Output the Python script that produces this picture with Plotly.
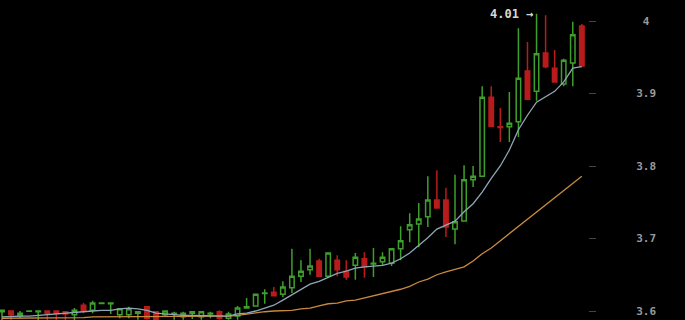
import plotly.graph_objects as go

idx = list(range(65))

opens = [3.599, 3.600, 3.593, 3.5995, 3.599, 3.600, 3.600, 3.599, 3.595, 3.608,
         3.601, 3.6105, 3.610, 3.595, 3.595, 3.597, 3.606, 3.599, 3.595, 3.596,
         3.592, 3.597, 3.592, 3.596, 3.599, 3.590, 3.593, 3.604, 3.607, 3.624,
         3.626, 3.623, 3.632, 3.648, 3.657, 3.669, 3.648, 3.670, 3.655, 3.663,
         3.672, 3.665, 3.668, 3.666, 3.686, 3.712, 3.720, 3.730, 3.753, 3.753,
         3.713, 3.724, 3.781, 3.786, 3.895, 3.854, 3.854, 3.861, 3.931, 3.903,
         3.956, 3.935, 3.913, 3.942, 3.993]
highs = [3.601, 3.600, 3.600, 3.600, 3.600, 3.600, 3.600, 3.599, 3.604, 3.611,
         3.614, 3.611, 3.612, 3.604, 3.606, 3.600, 3.607, 3.600, 3.601, 3.599,
         3.599, 3.600, 3.600, 3.599, 3.601, 3.599, 3.607, 3.618, 3.624, 3.630,
         3.633, 3.641, 3.686, 3.670, 3.686, 3.672, 3.681, 3.677, 3.670, 3.680,
         3.681, 3.687, 3.681, 3.686, 3.717, 3.735, 3.749, 3.786, 3.794, 3.770,
         3.788, 3.801, 3.800, 3.910, 3.910, 3.880, 3.902, 3.990, 3.971, 4.010,
         4.008, 3.960, 3.948, 3.999, 3.996]
lows = [3.585, 3.586, 3.590, 3.599, 3.586, 3.586, 3.586, 3.586, 3.586, 3.597,
        3.597, 3.610, 3.596, 3.590, 3.590, 3.588, 3.588, 3.585, 3.592, 3.588,
        3.588, 3.589, 3.588, 3.590, 3.588, 3.588, 3.588, 3.604, 3.606, 3.610,
        3.620, 3.619, 3.625, 3.640, 3.650, 3.647, 3.646, 3.648, 3.643, 3.643,
        3.646, 3.647, 3.663, 3.662, 3.670, 3.695, 3.688, 3.716, 3.742, 3.702,
        3.692, 3.723, 3.771, 3.786, 3.855, 3.833, 3.833, 3.840, 3.892, 3.890,
        3.935, 3.915, 3.910, 3.910, 3.938]
closes = [3.601, 3.595, 3.597, 3.600, 3.600, 3.597, 3.597, 3.596, 3.601, 3.600,
          3.611, 3.611, 3.611, 3.603, 3.603, 3.599, 3.590, 3.588, 3.600, 3.597,
          3.597, 3.599, 3.599, 3.597, 3.590, 3.596, 3.604, 3.606, 3.623, 3.625,
          3.621, 3.633, 3.648, 3.655, 3.662, 3.648, 3.680, 3.657, 3.647, 3.674,
          3.661, 3.666, 3.674, 3.686, 3.697, 3.719, 3.727, 3.753, 3.742, 3.716,
          3.723, 3.781, 3.786, 3.895, 3.855, 3.853, 3.859, 3.921, 3.892, 3.955,
          3.937, 3.916, 3.946, 3.981, 3.938]

ma_fast = [3.592, 3.593, 3.593, 3.593, 3.594, 3.596, 3.597, 3.597, 3.599, 3.599,
           3.600, 3.601, 3.601, 3.603, 3.604, 3.603, 3.601, 3.597, 3.596, 3.594,
           3.594, 3.594, 3.594, 3.594, 3.593, 3.593, 3.596, 3.597, 3.600, 3.604,
           3.608, 3.615, 3.622, 3.630, 3.637, 3.641, 3.646, 3.652, 3.655, 3.659,
           3.661, 3.662, 3.663, 3.666, 3.672, 3.680, 3.690, 3.701, 3.713, 3.719,
           3.724, 3.737, 3.748, 3.764, 3.783, 3.800, 3.822, 3.850, 3.870, 3.888,
           3.895, 3.903, 3.916, 3.935, 3.937]
ma_slow = [3.590, 3.590, 3.590, 3.591, 3.591, 3.591, 3.591, 3.591, 3.591, 3.591,
           3.592, 3.592, 3.592, 3.592, 3.592, 3.592, 3.592, 3.592, 3.592, 3.592,
           3.592, 3.592, 3.592, 3.593, 3.593, 3.593, 3.594, 3.596, 3.597, 3.599,
           3.600, 3.600, 3.601, 3.603, 3.604, 3.607, 3.610, 3.611, 3.614, 3.615,
           3.618, 3.621, 3.623, 3.626, 3.630, 3.634, 3.640, 3.644, 3.650, 3.654,
           3.657, 3.661, 3.669, 3.679, 3.687, 3.697, 3.706, 3.716, 3.726, 3.737,
           3.746, 3.757, 3.767, 3.777, 3.786]

tick_vals = [3.6, 3.7, 3.8, 3.9, 4.0]
tick_text = ["3.6", "3.7", "3.8", "3.9", "\u00a04"]
max_label = "4.01 \u2192"
max_index = 59
max_value = 4.01

GREEN = "#3e9f2c"
RED = "#b71b1b"

fig = go.Figure()
fig.add_trace(go.Candlestick(
    x=idx, open=opens, high=highs, low=lows, close=closes,
    increasing=dict(line=dict(color=GREEN, width=1.5), fillcolor="rgba(0,0,0,1)"),
    decreasing=dict(line=dict(color=RED, width=1.5), fillcolor=RED),
    whiskerwidth=0, showlegend=False, hoverinfo="skip",
))
fig.add_trace(go.Scatter(x=idx, y=ma_slow, mode="lines",
                         line=dict(color="#c98a3d", width=1.3), showlegend=False, hoverinfo="skip"))
fig.add_trace(go.Scatter(x=idx, y=ma_fast, mode="lines",
                         line=dict(color="#8ea7b6", width=1.3), showlegend=False, hoverinfo="skip"))

fig.add_annotation(x=max_index, y=max_value, text=max_label, showarrow=False,
                   xanchor="right", yanchor="middle", xshift=-2,
                   font=dict(family="DejaVu Sans Mono", size=12, color="#d8d8d8", weight="bold"))

fig.update_layout(
    width=685, height=320,
    margin=dict(l=0, r=97, t=0, b=0),
    paper_bgcolor="black", plot_bgcolor="black",
    boxgap=0.3,
    xaxis=dict(visible=False, range=[-0.22, 64.68], rangeslider=dict(visible=False)),
    yaxis=dict(side="right", range=[3.58759, 4.02897], showgrid=False, zeroline=False,
               showline=False, tickvals=tick_vals, ticktext=tick_text,
               ticks="outside", ticklen=7, tickcolor="#444444", tickwidth=1,
               ticklabelstandoff=38,
               tickfont=dict(family="DejaVu Sans Mono", size=11, color="#9a9a9a", weight="bold")),
)

fig.write_html("out.html")
